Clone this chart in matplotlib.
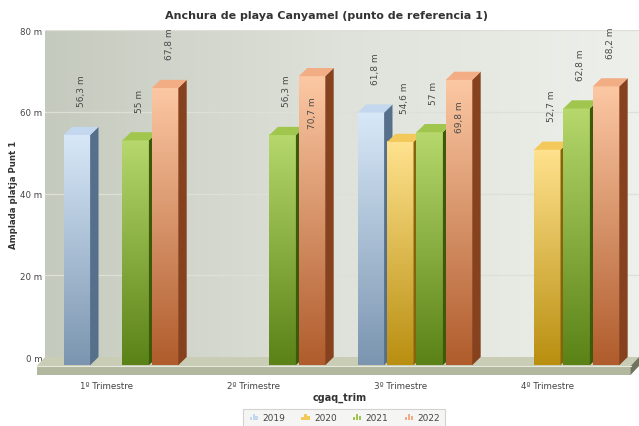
import numpy as np
import matplotlib
matplotlib.use("Agg")
import matplotlib.pyplot as plt
from matplotlib.colors import LinearSegmentedColormap
from matplotlib.patches import Polygon, Rectangle
from matplotlib.legend_handler import HandlerBase

# data
quarters = ["1º Trimestre", "2º Trimestre", "3º Trimestre", "4º Trimestre"]
years = ["2019", "2020", "2021", "2022"]
v2019 = [56.3, None, 61.8, None]
v2020 = [None, None, 54.6, 52.7]
v2021 = [55, 56.3, 57, 62.8]
v2022 = [67.8, 70.7, 69.8, 68.2]
series = [v2019, v2020, v2021, v2022]

# colours: (front top, front bottom, side, top face)
cols = [("#d8e8f8", "#7b95b0", "#56708c", "#c3d8ee"),
        ("#ffe28e", "#b98f10", "#86650a", "#f2c95a"),
        ("#b6d86c", "#5a8216", "#3d5a0b", "#a0c64e"),
        ("#fcc8a4", "#b05c2c", "#86421e", "#f2ad84")]

fig = plt.figure(figsize=(6.39, 4.27), dpi=100)
fig.patch.set_facecolor("white")
ax = fig.add_axes([45/639, 1-358/427, 594/639, 327/427])

slot = 0.2
bw = 0.18
dx = 0.057   # depth offset in x units
dy = 2.0     # depth offset in metres
ax.set_xlim(-0.517, 3.524)
ax.set_ylim(0, 80)

# background wall gradient
bg = LinearSegmentedColormap.from_list("bg", ["#c5cabe", "#dfe2da", "#eef0eb"])
ax.imshow(np.linspace(0, 1, 256).reshape(1, -1), cmap=bg, aspect="auto",
          extent=(0, 1, 0, 1), transform=ax.transAxes, zorder=0)

for yv in [20, 40, 60, 80]:
    ax.axhline(yv, color="#dde0d6", lw=0.9, zorder=1)

# floor
xl, xr = ax.get_xlim()
floor_top = Polygon([(xl - dx, -2.2), (xr - dx, -2.2), (xr, 0), (xl, 0)],
                    closed=True, fc="#c9cdb6", ec="none", clip_on=False, zorder=2)
floor_front = Polygon([(xl - dx, -2.2), (xr - dx, -2.2), (xr - dx, -4.4), (xl - dx, -4.4)],
                      closed=True, fc="#b2b79f", ec="none", clip_on=False, zorder=2)
floor_side = Polygon([(xr - dx, -2.2), (xr, 0), (xr, -2.2), (xr - dx, -4.4)],
                     closed=True, fc="#6f745f", ec="none", clip_on=False, zorder=2)
for p in (floor_top, floor_front, floor_side):
    ax.add_patch(p)
ax.plot([xl - dx, xr - dx], [-2.2, -2.2], color="#e6e9dc", lw=0.8, clip_on=False, zorder=2)

grad = np.linspace(1, 0, 256).reshape(-1, 1)
for s, vals in enumerate(series):
    ftop, fbot, side, topc = cols[s]
    cm = LinearSegmentedColormap.from_list("c%d" % s, [fbot, ftop])
    for g, v in enumerate(vals):
        if v is None:
            continue
        cx = g + (s - 1.5) * slot
        x0, x1 = cx - bw / 2, cx + bw / 2
        # front face
        ax.imshow(grad, cmap=cm, aspect="auto", extent=(x0, x1, -dy, v - dy),
                  zorder=3, clip_on=False)
        # side face
        sp = Polygon([(x1, -dy), (x1 + dx, 0), (x1 + dx, v), (x1, v - dy)],
                     closed=True, fc=side, ec="none", zorder=3, clip_on=False)
        ax.add_patch(sp)
        # top face
        tp = Polygon([(x0, v - dy), (x1, v - dy), (x1 + dx, v), (x0 + dx, v)],
                     closed=True, fc=topc, ec="none", zorder=3, clip_on=False)
        ax.add_patch(tp)
        lab = ("%g" % v).replace(".", ",") + " m"
        if v > 69:
            ax.text(cx, v - 7, lab, rotation=90, ha="center", va="top",
                    fontsize=6.5, color="#4a4a4a", zorder=5)
        else:
            ax.text(cx + dx / 2, v + 5, lab, rotation=90, ha="center", va="bottom",
                    fontsize=6.5, color="#4a4a4a", zorder=5, clip_on=False)

ax.set_xticks([i - 0.1 for i in range(len(quarters))])
ax.set_xticklabels(quarters, fontsize=6.3, color="#444444")
ax.set_yticks([0, 20, 40, 60, 80])
ax.set_yticklabels(["0 m", "20 m", "40 m", "60 m", "80 m"], fontsize=6.2, color="#444444")
ax.tick_params(axis="x", length=0, pad=17)
ax.tick_params(axis="y", length=0, pad=2)
for sp_ in ax.spines.values():
    sp_.set_visible(False)

fig.text(327/639, 1 - 16/427, "Anchura de playa Canyamel (punto de referencia 1)",
         ha="center", va="center", fontsize=8, fontweight="bold", color="#333333")
fig.text(14/639, 1 - 195/427, "Amplada platja Punt 1", rotation=90, ha="center",
         va="center", fontsize=6.2, fontweight="bold", color="#333333")
fig.text(340/639, 1 - 398/427, "cgaq_trim", ha="center", va="center",
         fontsize=7, fontweight="bold", color="#333333")


class BarIcon(HandlerBase):
    def create_artists(self, legend, orig, xd, yd, w, h, fs, trans):
        c = orig.get_facecolor()
        arts = []
        bwid = w / 4.5
        for k, hh in enumerate([0.45, 0.9, 0.65]):
            r = Rectangle((xd + w * 0.15 + k * (bwid + w * 0.05), yd), bwid, h * hh,
                          fc=c, ec="none", transform=trans)
            arts.append(r)
        return arts


handles = [Rectangle((0, 0), 1, 1, fc=cols[i][3]) for i in range(4)]
leg = fig.legend(handles, years, loc="lower center", bbox_to_anchor=(344/639, -0.012),
                 ncol=4, fontsize=6.5, frameon=True, fancybox=False,
                 handler_map={Rectangle: BarIcon()}, handlelength=1.2,
                 handletextpad=0.4, columnspacing=1.6, borderpad=0.5)
leg.get_frame().set_facecolor("#f3f3f1")
leg.get_frame().set_edgecolor("#c8c8c8")
leg.get_frame().set_linewidth(0.8)
for t in leg.get_texts():
    t.set_color("#444444")

fig.savefig("out.png", dpi=100)
